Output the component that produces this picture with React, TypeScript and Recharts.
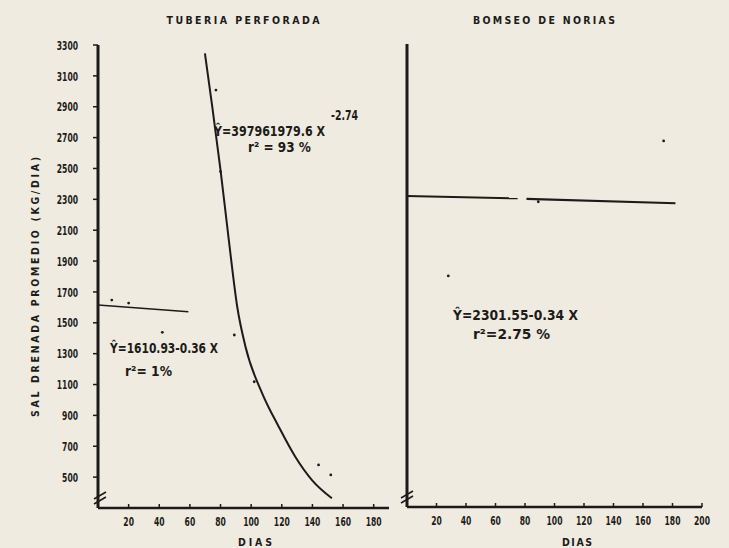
import React from 'react';
import { ComposedChart, Line, Scatter, XAxis, YAxis } from 'recharts';

const INK = '#1d1b19';
const PAPER = '#efebe0';
const FONT = "'DejaVu Sans Condensed', 'Liberation Sans', sans-serif";

// tick labels
const yTicks = [500, 700, 900, 1100, 1300, 1500, 1700, 1900, 2100, 2300, 2500, 2700, 2900, 3100, 3300];
const leftXTicks = [20, 40, 60, 80, 100, 120, 140, 160, 180];
const rightXTicks = [20, 40, 60, 80, 100, 120, 140, 160, 180, 200];

// TUBERIA PERFORADA
const tuberiaLinear = [
  { x: 0, y: 1615 },
  { x: 59, y: 1572 },
];
const tuberiaCurve = [
  { x: 69.8, y: 3246 },
  { x: 74.6, y: 2900 },
  { x: 80, y: 2490 },
  { x: 85.4, y: 2037 },
  { x: 90.9, y: 1604 },
  { x: 96.3, y: 1345 },
  { x: 107.2, y: 1043 },
  { x: 118, y: 827 },
  { x: 128.8, y: 632 },
  { x: 139.7, y: 481 },
  { x: 152.7, y: 363 },
];
const tuberiaPoints = [
  { x: 9, y: 1647 },
  { x: 20, y: 1628 },
  { x: 42, y: 1438 },
  { x: 77, y: 3008 },
  { x: 80, y: 2480 },
  { x: 89, y: 1421 },
  { x: 102, y: 1118 },
  { x: 144, y: 579 },
  { x: 152, y: 514 },
];

// BOMSEO DE NORIAS
const noriasLineA = [
  { x: 0, y: 2315 },
  { x: 75, y: 2300 },
];
const noriasLineB = [
  { x: 81, y: 2296 },
  { x: 182, y: 2268 },
];
const noriasPoints = [
  { x: 28, y: 1797 },
  { x: 89, y: 2278 },
  { x: 174, y: 2672 },
];

const Dot = (props: any) => <circle cx={props.cx} cy={props.cy} r={1.4} fill={INK} />;

// tall, narrow lettering like the original stencil digits
const YTick = (props: any) => {
  const label = String(props.payload.value);
  return (
    <text x={props.x} y={props.y} dy="0.36em" textAnchor="end" fontFamily={FONT} fontWeight="bold" fontSize={13} fill={INK}
      textLength={label.length * 5.3} lengthAdjust="spacingAndGlyphs">
      {label}
    </text>
  );
};

const XTick = (props: any) => {
  const label = String(props.payload.value);
  return (
    <text x={props.x} y={props.y} dy="0.71em" textAnchor="middle" fontFamily={FONT} fontWeight="bold" fontSize={13} fill={INK}
      textLength={label.length * 5.3} lengthAdjust="spacingAndGlyphs">
      {label}
    </text>
  );
};

const eqStyle: React.CSSProperties = { fontFamily: FONT, fontWeight: 'bold', fontSize: 13.5, fill: INK };
const capStyle: React.CSSProperties = { fontFamily: FONT, fontWeight: 'bold', fontSize: 10.5, fill: INK };

export default function App() {
  return (
    <div style={{ position: 'absolute', left: 0, top: 0, width: 729, height: 548, background: PAPER, overflow: 'hidden' }}>
      <div style={{ position: 'absolute', left: 0, top: 0 }}>
        <ComposedChart width={400} height={548} margin={{ top: 45, right: 11, left: 38, bottom: 0 }}>
          <XAxis
            dataKey="x"
            type="number"
            domain={[0, 190]}
            ticks={leftXTicks}
            allowDataOverflow
            height={40}
            tick={<XTick />}
            tickSize={-4}
            tickMargin={13}
            axisLine={{ stroke: INK, strokeWidth: 2.5 }}
            tickLine={{ stroke: INK, strokeWidth: 1.5 }}
          />
          <YAxis
            dataKey="y"
            type="number"
            domain={[300, 3300]}
            ticks={yTicks}
            allowDataOverflow
            width={60}
            tick={<YTick />}
            tickSize={5}
            tickMargin={15}
            axisLine={{ stroke: INK, strokeWidth: 3 }}
            tickLine={{ stroke: INK, strokeWidth: 1.5 }}
          />
          <Line data={tuberiaLinear} dataKey="y" type="linear" stroke={INK} strokeWidth={1.6} dot={false} isAnimationActive={false} />
          <Line data={tuberiaCurve} dataKey="y" type="monotone" stroke={INK} strokeWidth={2} dot={false} isAnimationActive={false} />
          <Scatter data={tuberiaPoints} dataKey="y" shape={<Dot />} isAnimationActive={false} />
        </ComposedChart>
      </div>
      <div style={{ position: 'absolute', left: 380, top: 0 }}>
        <ComposedChart width={349} height={548} margin={{ top: 44, right: 27, left: 7, bottom: 0 }}>
          <XAxis
            dataKey="x"
            type="number"
            domain={[0, 200]}
            ticks={rightXTicks}
            allowDataOverflow
            height={41}
            tick={<XTick />}
            tickSize={-4}
            tickMargin={13}
            axisLine={{ stroke: INK, strokeWidth: 2.5 }}
            tickLine={{ stroke: INK, strokeWidth: 1.5 }}
          />
          <YAxis
            dataKey="y"
            type="number"
            domain={[300, 3300]}
            ticks={yTicks}
            allowDataOverflow
            width={20}
            tick={false}
            tickSize={5}
            axisLine={{ stroke: INK, strokeWidth: 3 }}
            tickLine={{ stroke: INK, strokeWidth: 1.5 }}
          />
          <Line data={noriasLineA} dataKey="y" type="linear" stroke={INK} strokeWidth={2} dot={false} isAnimationActive={false} />
          <Line data={noriasLineB} dataKey="y" type="linear" stroke={INK} strokeWidth={2.2} dot={false} isAnimationActive={false} />
          <Scatter data={noriasPoints} dataKey="y" shape={<Dot />} isAnimationActive={false} />
        </ComposedChart>
      </div>
      <svg width={729} height={548} style={{ position: 'absolute', left: 0, top: 0, pointerEvents: 'none' }}>
        <text x={243} y={24} textAnchor="middle" style={capStyle} textLength={153} lengthAdjust="spacing">TUBERIA PERFORADA</text>
        <text x={544} y={24} textAnchor="middle" style={capStyle} textLength={142} lengthAdjust="spacing">BOMSEO DE NORIAS</text>
        <text
          x={0}
          y={0}
          transform="translate(39,287) rotate(-90)"
          textAnchor="middle"
          style={capStyle}
          textLength={260}
          lengthAdjust="spacing"
        >
          SAL DRENADA PROMEDIO (KG/DIA)
        </text>
        <text x={255} y={546} textAnchor="middle" style={capStyle} textLength={34} lengthAdjust="spacing">DIAS</text>
        <text x={577} y={546} textAnchor="middle" style={capStyle} textLength={30} lengthAdjust="spacing">DIAS</text>

        <text x={214} y={136} style={eqStyle} textLength={111} lengthAdjust="spacingAndGlyphs">Ŷ=397961979.6 X</text>
        <text x={331} y={120} style={eqStyle} fontSize={9} textLength={27} lengthAdjust="spacingAndGlyphs">-2.74</text>
        <text x={248} y={152} style={eqStyle} textLength={63} lengthAdjust="spacingAndGlyphs">r² = 93 %</text>

        <text x={110} y={353} style={eqStyle} textLength={108} lengthAdjust="spacingAndGlyphs">Ŷ=1610.93-0.36 X</text>
        <text x={125} y={376} style={eqStyle} textLength={47} lengthAdjust="spacingAndGlyphs">r²= 1%</text>

        <text x={453} y={320} style={eqStyle} textLength={125} lengthAdjust="spacingAndGlyphs">Ŷ=2301.55-0.34 X</text>
        <text x={473} y={339} style={eqStyle} textLength={77} lengthAdjust="spacingAndGlyphs">r²=2.75 %</text>

        {/* axis break marks */}
        <g stroke={INK} strokeWidth={1.6}>
          <line x1={94} y1={499} x2={106} y2={492} />
          <line x1={94} y1={504} x2={106} y2={497} />
          <line x1={401} y1={498} x2={413} y2={491} />
          <line x1={401} y1={503} x2={413} y2={496} />
        </g>
      </svg>
    </div>
  );
}
